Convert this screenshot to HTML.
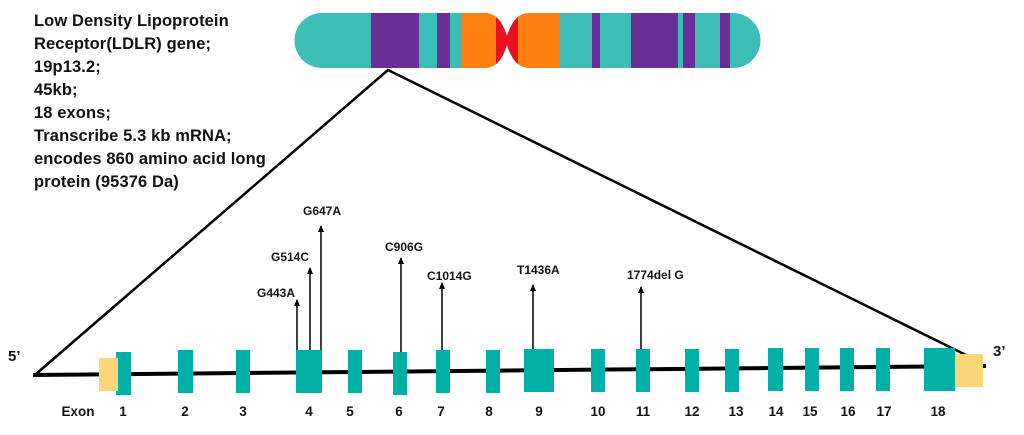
<!DOCTYPE html>
<html><head><style>
body{margin:0;width:1024px;height:435px;background:#fff;overflow:hidden;position:relative;font-family:"Liberation Sans",sans-serif}
.t{position:absolute;left:34px;top:10px;font-weight:bold;font-size:16.5px;line-height:23px;color:#111;letter-spacing:0.1px}
</style></head><body>
<div class="t">Low Density Lipoprotein<br>Receptor(LDLR) gene;<br>19p13.2;<br>45kb;<br>18 exons;<br>Transcribe 5.3 kb mRNA;<br>encodes 860 amino acid long<br>protein (95376 Da)</div>
<svg width="1024" height="435" style="position:absolute;left:0;top:0" font-family="Liberation Sans, sans-serif" font-weight="bold">
<defs>
<clipPath id="c"><path d="M322,13 H485 Q500,13 507,36 Q514,13 529,13 H733 A27,27 0 0 1 733,68 H529 Q514,68 507,45 Q500,68 485,68 H322 A27,27 0 0 1 322,13 Z"/></clipPath>
<marker id="a" markerWidth="7" markerHeight="6" refX="6" refY="3" orient="auto" markerUnits="userSpaceOnUse"><path d="M0,0 L7,3 L0,6 Z" fill="#000"/></marker>
</defs>
<g clip-path="url(#c)">
<rect x="290" y="10" width="480" height="62" fill="#3cbdb6"/>
<rect x="371" y="10" width="48" height="62" fill="#6a2f96"/>
<rect x="437" y="10" width="13" height="62" fill="#6a2f96"/>
<rect x="462" y="10" width="34" height="62" fill="#ff7f10"/>
<rect x="496" y="10" width="22" height="62" fill="#e8101e"/>
<rect x="518" y="10" width="42" height="62" fill="#ff7f10"/>
<rect x="592" y="10" width="8" height="62" fill="#6a2f96"/>
<rect x="631" y="10" width="47" height="62" fill="#6a2f96"/>
<rect x="683" y="10" width="12" height="62" fill="#6a2f96"/>
<rect x="720" y="10" width="10" height="62" fill="#6a2f96"/>
</g>
<path d="M36,374 L388,70 L968,356" fill="none" stroke="#000" stroke-width="2.5"/>
<line x1="33" y1="375" x2="986" y2="366" stroke="#000" stroke-width="4"/>
<g fill="#00afa5">
<rect x="116" y="352" width="15" height="43"/>
<rect x="178" y="350" width="15" height="43"/>
<rect x="236" y="350" width="14" height="43"/>
<rect x="296" y="350" width="26" height="43"/>
<rect x="348" y="350" width="14" height="43"/>
<rect x="393" y="352" width="14" height="43"/>
<rect x="436" y="350" width="14" height="43"/>
<rect x="486" y="350" width="14" height="43"/>
<rect x="524" y="349" width="30" height="43"/>
<rect x="591" y="349" width="14" height="43"/>
<rect x="636" y="349" width="14" height="43"/>
<rect x="685" y="349" width="14" height="43"/>
<rect x="725" y="349" width="14" height="43"/>
<rect x="768" y="348" width="15" height="43"/>
<rect x="805" y="348" width="14" height="43"/>
<rect x="840" y="348" width="14" height="43"/>
<rect x="876" y="348" width="14" height="43"/>
<rect x="924" y="348" width="31" height="43"/>
</g>
<rect x="99" y="358" width="19" height="33" fill="#fbd679"/>
<rect x="955" y="354" width="28" height="33" fill="#fbd679"/>
<g stroke="#000" stroke-width="1.5" marker-end="url(#a)">
<line x1="297" y1="350" x2="297" y2="300"/>
<line x1="310" y1="350" x2="310" y2="268"/>
<line x1="321" y1="350" x2="321" y2="226"/>
<line x1="401" y1="352" x2="401" y2="258"/>
<line x1="442" y1="350" x2="442" y2="283"/>
<line x1="533" y1="349" x2="533" y2="285"/>
<line x1="641" y1="349" x2="641" y2="287"/>
</g>
<g font-size="12" fill="#111">
<text x="257" y="297">G443A</text>
<text x="271" y="261">G514C</text>
<text x="303" y="215">G647A</text>
<text x="385" y="251">C906G</text>
<text x="427" y="280">C1014G</text>
<text x="517" y="274">T1436A</text>
<text x="627" y="279">1774del G</text>
</g>
<g font-size="15" fill="#111">
<text x="8" y="361">5’</text>
<text x="993" y="356">3’</text>
</g>
<g font-size="13.5" fill="#111" text-anchor="middle">
<text x="78" y="416">Exon</text>
<text x="123" y="416">1</text><text x="185" y="416">2</text><text x="243" y="416">3</text>
<text x="309" y="416">4</text><text x="350" y="416">5</text><text x="399" y="416">6</text>
<text x="441" y="416">7</text><text x="489" y="416">8</text><text x="539" y="416">9</text>
<text x="598" y="416">10</text><text x="643" y="416">11</text><text x="692" y="416">12</text>
<text x="736" y="416">13</text><text x="776" y="416">14</text><text x="810" y="416">15</text>
<text x="848" y="416">16</text><text x="884" y="416">17</text><text x="938" y="416">18</text>
</g>
</svg>
</body></html>
